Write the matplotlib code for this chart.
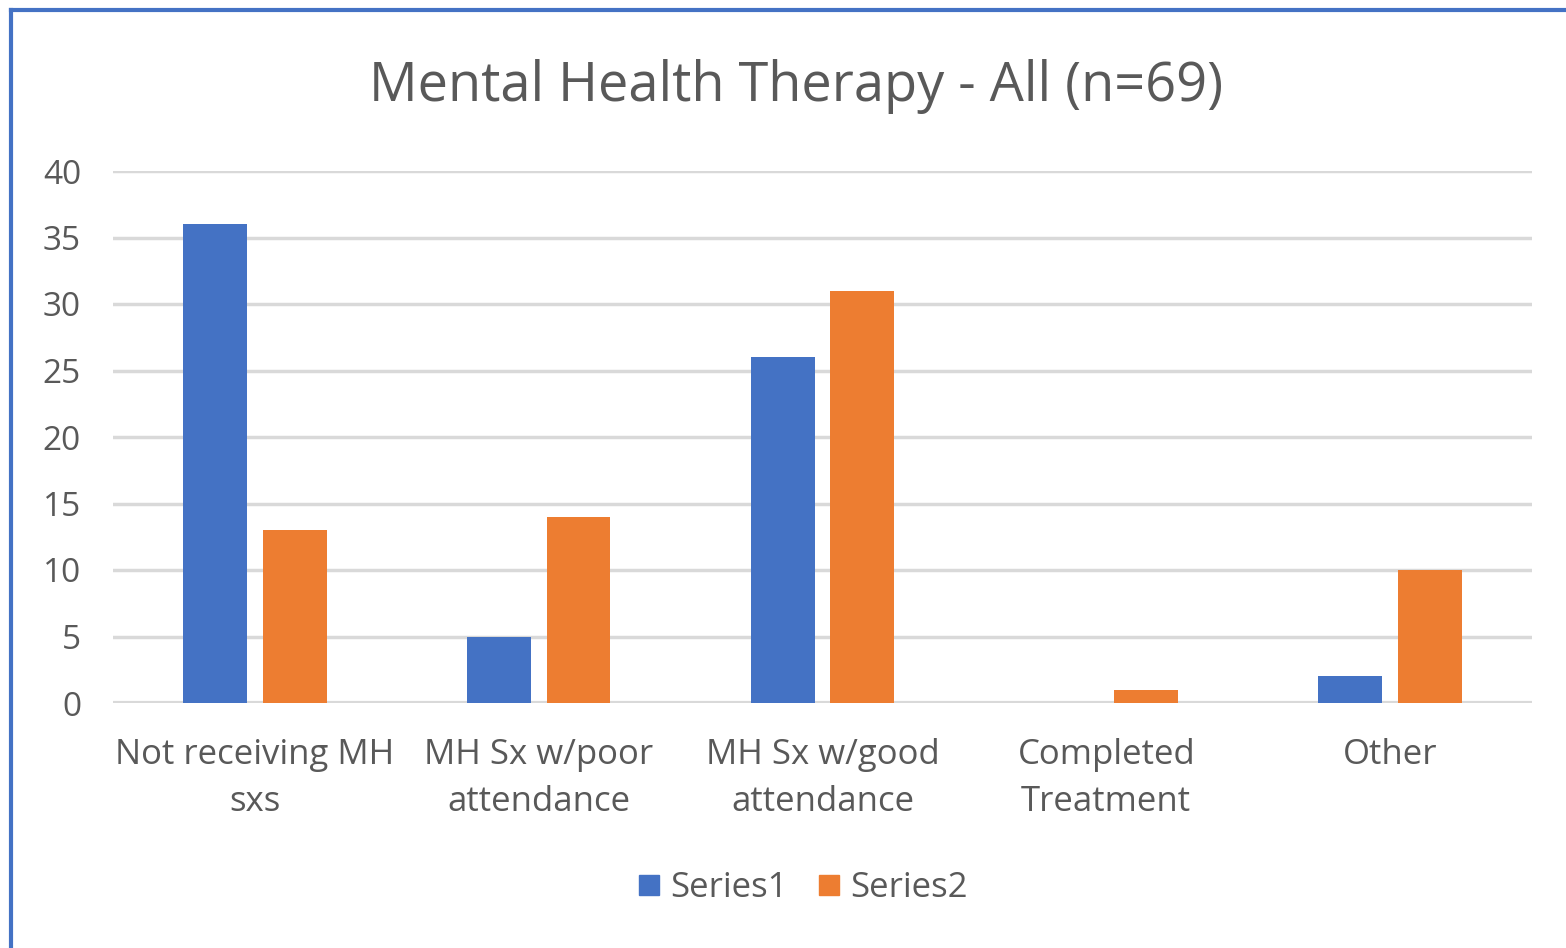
import numpy as np
import matplotlib
matplotlib.use("Agg")
import matplotlib.pyplot as plt
from matplotlib.lines import Line2D

# donnees
categories = ["Not receiving MH\nsxs", "MH Sx w/poor\nattendance", "MH Sx w/good\nattendance",
              "Completed\nTreatment", "Other"]
series1 = [36, 5, 26, 0, 2]
series2 = [13, 14, 31, 1, 10]
yticks = [0, 5, 10, 15, 20, 25, 30, 35, 40]

BLEU = "#4472C4"
ORANGE = "#ED7D31"
TEXTE = "#595959"
GRILLE = "#D9D9D9"

plt.rcParams['font.family'] = ['Open Sans', 'DejaVu Sans']

fig = plt.figure(figsize=(15.66, 9.48), dpi=100)
ax = fig.add_axes([113/1566, 1 - 703/948, (1532-113)/1566, (703-171)/948])

x = np.arange(len(categories))
largeur = 0.225
ecart = 0.28
ax.bar(x - ecart/2, series1, largeur, color=BLEU, zorder=3, label="Series1")
ax.bar(x + ecart/2, series2, largeur, color=ORANGE, zorder=3, label="Series2")

ax.set_xlim(-0.5, len(categories) - 0.5)
ax.set_ylim(0, 40)
ax.set_yticks(yticks)
ax.set_xticks(x)
ax.set_xticklabels(categories, fontsize=25, color=TEXTE, linespacing=1.5)
ax.tick_params(axis='y', labelsize=24, labelcolor=TEXTE, length=0, pad=23)
ax.tick_params(axis='x', length=0, pad=25)

ax.grid(axis='y', color=GRILLE, linewidth=2.5, zorder=0)
for s in ax.spines.values():
    s.set_visible(False)
ax.axhline(0, color=GRILLE, linewidth=3, zorder=2)

fig.text(796/1566, 1 - 86/948, "Mental Health Therapy - All (n=69)", fontsize=39,
         color=TEXTE, ha='center', va='center')

poignees = [Line2D([], [], marker='s', linestyle='none', markersize=15, color=BLEU),
            Line2D([], [], marker='s', linestyle='none', markersize=15, color=ORANGE)]
fig.legend(poignees, ["Series1", "Series2"], loc='center', bbox_to_anchor=(798/1566, 1 - 888/948),
           ncol=2, frameon=False, fontsize=25, labelcolor=TEXTE, handletextpad=0.0,
           columnspacing=0.6, handlelength=1.2)

# bordure bleue (haut et gauche)
fig.add_artist(Line2D([11/1566, 1], [1 - 10/948, 1 - 10/948], color=BLEU, linewidth=3,
                      transform=fig.transFigure))
fig.add_artist(Line2D([11/1566, 11/1566], [0, 1 - 10/948], color=BLEU, linewidth=3,
                      transform=fig.transFigure))

fig.savefig("out.png", dpi=100)
